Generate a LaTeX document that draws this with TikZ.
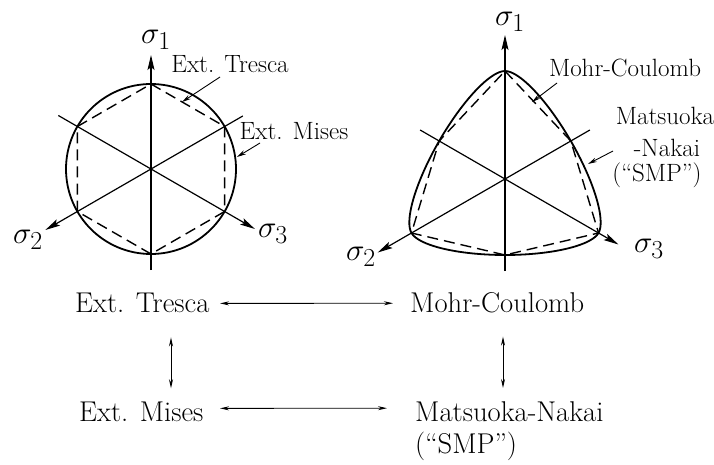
\documentclass[tikz,border=0pt]{standalone}
\usepackage{fontspec}
\usetikzlibrary{arrows.meta,calc}
\tikzset{
  axis/.style={line width=1.2pt,-{Stealth[length=15pt,width=7pt,inset=3pt]}},
  outline/.style={line width=1.8pt},
  hexdash/.style={line width=1.4pt,dash pattern=on 11pt off 6pt},
  leader/.style={line width=0.9pt,-{Stealth[length=9pt,width=4.5pt]}},
  link/.style={line width=0.9pt,{Stealth[length=9pt,width=4pt]}-{Stealth[length=9pt,width=4pt]}},
  lab/.style={inner sep=0pt,font=\fontsize{25}{30}\selectfont,anchor=base},
  big/.style={inner sep=0pt,font=\fontsize{28.6}{34}\selectfont,anchor=base west},
  sig/.style={inner sep=0pt,font=\fontsize{24.88}{30}\selectfont},
  declare function={
    wwc(\a)=cos(acos(max(-1,min(1,sin(3*\a))))/3);
    wwf(\a)=(1.00962*wwc(\a)+0.4074*sqrt(2.01924*wwc(\a)*wwc(\a)-0.33884))/(2.01924*wwc(\a)*wwc(\a)+0.16597);
  }
}
\newcommand{\sgm}[1]{\scalebox{1.25}{$\sigma_{#1}$}}
\begin{document}
\begin{tikzpicture}[x=1pt,y=1pt]
\useasboundingbox (0,0) rectangle (714,464);

% ---------- left: Tresca / Mises ----------
\begin{scope}[shift={(151,295)}]
  \draw[outline] (0,0) circle (85pt);
  \draw[hexdash] (90:85pt) -- (30:85pt) -- (-30:85pt) -- (-90:85pt) -- (-150:85pt) -- (150:85pt) -- cycle;
  \draw[axis] (-90:101pt) -- (90:114pt);
  \draw[axis] (150:107pt) -- (-30:120pt);
  \draw[axis] (30:106pt) -- (-150:122pt);
\end{scope}
\node[sig] (s1L) at (156,424) {\sgm{1}};
\node[sig] (s3L) at (273,230) {\sgm{3}};
\node[sig] (s2L) at (28,224) {\sgm{2}};

\node[lab] (trescaLab) at (230,391) {Ext. Tresca};
\node[lab] (misesLab) at (294,324) {Ext. Mises};
\coordinate (trFrom) at (220,387);
\coordinate (trTo) at (182,362);
\coordinate (miFrom) at (260,321);
\coordinate (miTo) at (237,307);
\draw[leader] (trFrom) -- (trTo);
\draw[leader] (miFrom) -- (miTo);

% ---------- right: Mohr-Coulomb / Matsuoka-Nakai ----------
\begin{scope}[shift={(505,285)}]
  \draw[outline] plot[domain=0:360,samples=241,variable=\t] ({\t}:{108*wwf(\t)}) -- cycle;
  \draw[hexdash] (90:108pt) -- (30:76pt) -- (-30:108pt) -- (-90:76pt) -- (-150:108pt) -- (150:76pt) -- cycle;
  \draw[axis] (-90:92pt) -- (90:144pt);
  \draw[axis] (150:98pt) -- (-30:131pt);
  \draw[axis] (30:98pt) -- (-150:147pt);
\end{scope}
\node[sig] (s1R) at (510,442) {\sgm{1}};
\node[sig] (s3R) at (649,215) {\sgm{3}};
\node[sig] (s2R) at (361,207) {\sgm{2}};

\node[lab] (mcLab) at (625,387) {Mohr-Coulomb};
\node[lab] (mnLabA) at (665,339) {Matsuoka};
\node[lab] (mnLabB) at (667,307) {-Nakai};
\node[lab] (mnLabC) at (657,282) {(``SMP'')};
\coordinate (mcFrom) at (557,381);
\coordinate (mcTo) at (532,362);
\coordinate (mnFrom) at (613,313);
\coordinate (mnTo) at (588,300);
\draw[leader] (mcFrom) -- (mcTo);
\draw[leader] (mnFrom) -- (mnTo);

% ---------- bottom scheme ----------
\node[big] (tresca) at (75,152) {Ext. Tresca};
\node[big] (mc) at (410,152) {Mohr-Coulomb};
\node[big] (mises) at (79,43) {Ext. Mises};
\node[big] (mn) at (415,43) {Matsuoka-Nakai};
\node[big] (smp) at (415,11) {(``SMP'')};

\coordinate (xA) at (220,0);
\coordinate (xB) at (393,0);
\coordinate (xC) at (387,0);
\coordinate (xL) at (171,0);
\coordinate (xR) at (503,0);
\draw[link] ($(xA |- tresca.east)+(0,-1)$) -- ($(xB |- mc.west)+(0,-1)$);
\draw[link] ($(xA |- mises.east)+(0,3)$) -- ($(xC |- mn.west)+(0,3)$);
\draw[link] ($(xL |- tresca.south)+(0,-25)$) -- ($(xL |- mises.north)+(0,13)$);
\draw[link] ($(xR |- mc.south)+(0,-24)$) -- ($(xR |- mn.north)+(0,13)$);
\end{tikzpicture}
\end{document}
